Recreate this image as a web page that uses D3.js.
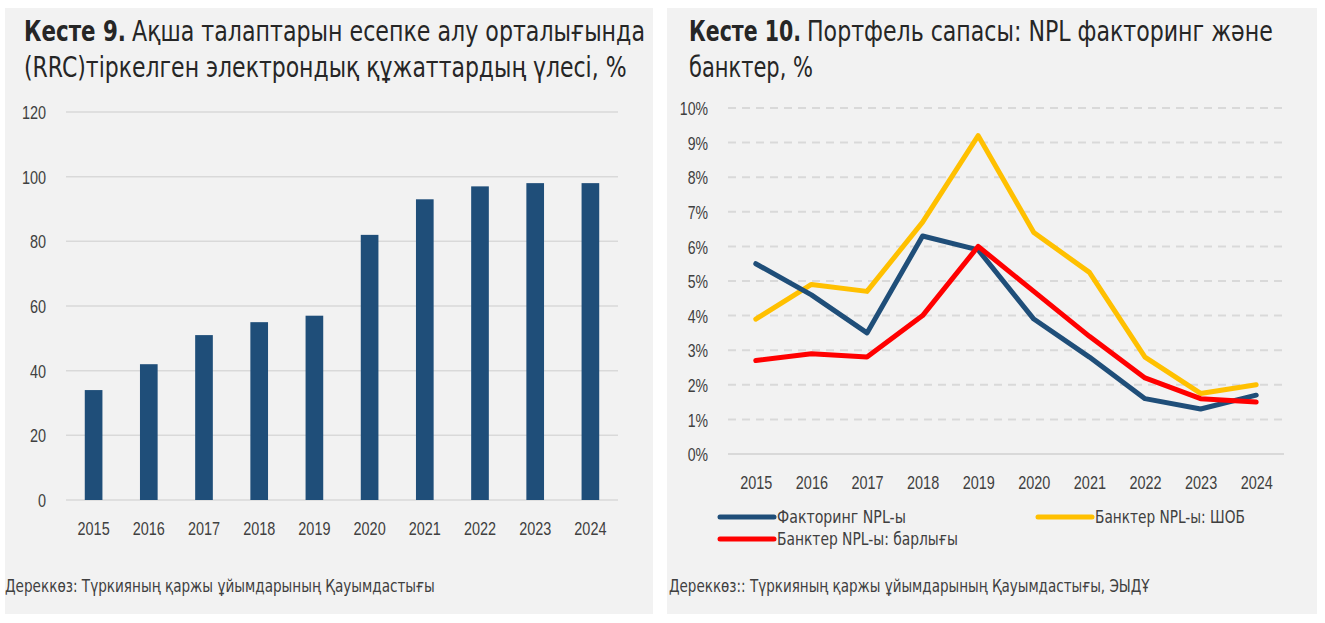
<!DOCTYPE html>
<html>
<head>
<meta charset="utf-8">
<script src="https://cdn.jsdelivr.net/npm/d3@7"></script>
<style>
  body { margin: 0; background: #fff; }
  svg { display: block; font-family: "Liberation Sans Narrow", "DejaVu Sans Condensed", sans-serif; }
</style>
</head>
<body>
<svg id="chart" width="1325" height="623"></svg>
<script>
// ---- data ----
const years = ["2015", "2016", "2017", "2018", "2019", "2020", "2021", "2022", "2023", "2024"];
const rrcShare = [34, 42, 51, 55, 57, 82, 93, 97, 98, 98];
const barTicks = [0, 20, 40, 60, 80, 100, 120];

const factoringNpl = [5.5, 4.6, 3.5, 6.3, 5.9, 3.9, 2.8, 1.6, 1.3, 1.7];
const banksSmeNpl = [3.9, 4.9, 4.7, 6.7, 9.2, 6.4, 5.25, 2.8, 1.75, 2.0];
const banksAllNpl = [2.7, 2.9, 2.8, 4.0, 6.0, 4.7, 3.4, 2.2, 1.6, 1.5];
const pctTicks = [0, 1, 2, 3, 4, 5, 6, 7, 8, 9, 10];

const seriesNames = ["Факторинг NPL-ы", "Банктер NPL-ы: ШОБ", "Банктер NPL-ы: барлығы"];
const seriesColors = ["#1f4e79", "#ffc000", "#ff0000"];

const svg = d3.select("#chart");
const textColor = "#404040";
const titleColor = "#262626";

// the original uses a narrow font, so squeeze texts horizontally to the widths seen there
function fit(sel, w) {
  const x = +sel.attr("x"), y = +sel.attr("y");
  const len = sel.node().getComputedTextLength();
  sel.attr("x", 0).attr("y", 0)
    .attr("transform", `translate(${x},${y}) scale(${w / len},1)`);
  return sel;
}
function squeeze(sel, ratio) {
  sel.each(function () {
    const len = this.getComputedTextLength();
    d3.select(this).attr("textLength", len * ratio).attr("lengthAdjust", "spacingAndGlyphs");
  });
  return sel;
}

function titleText(x, y, txt, w, bold) {
  const t = svg.append("text").attr("x", x).attr("y", y)
    .attr("fill", titleColor).style("font-size", "28px")
    .style("font-weight", bold ? "bold" : "normal")
    .text(txt);
  return fit(t, w);
}

// ---- panels ----
svg.append("rect").attr("x", 5).attr("y", 8).attr("width", 648).attr("height", 606).attr("fill", "#f2f2f2");
svg.append("rect").attr("x", 667).attr("y", 8).attr("width", 650).attr("height", 606).attr("fill", "#f2f2f2");

// ---- left: bar chart ----
titleText(24, 41, "Кесте 9.", 102, true);
titleText(132, 41, "Ақша талаптарын есепке алу орталығында", 513);
titleText(24, 77, "(RRC)тіркелген электрондық құжаттардың үлесі, %", 603);

const xBar = d3.scaleBand().domain(years).range([66, 618]).paddingInner(0.68).paddingOuter(0.34);
const yBar = d3.scaleLinear().domain([0, 120]).range([500, 112]);

const gBar = svg.append("g");
gBar.selectAll("line.grid").data(barTicks).join("line")
  .attr("x1", 66).attr("x2", 618)
  .attr("y1", d => yBar(d)).attr("y2", d => yBar(d))
  .attr("stroke", "#d9d9d9").attr("stroke-width", 1.5);

gBar.selectAll("rect.bar").data(years).join("rect")
  .attr("x", d => xBar(d))
  .attr("width", xBar.bandwidth())
  .attr("y", (d, i) => yBar(rrcShare[i]))
  .attr("height", (d, i) => yBar(0) - yBar(rrcShare[i]))
  .attr("fill", "#1f4e79");

const yAxisBar = d3.axisLeft(yBar).tickValues(barTicks).tickSize(0).tickPadding(0);
svg.append("g").attr("transform", "translate(46,0)").call(yAxisBar)
  .call(g => g.select(".domain").remove())
  .selectAll("text").attr("fill", textColor).style("font-size", "19px")
  .attr("dy", "0.35em").call(squeeze, 0.76);

const xAxisBar = d3.axisBottom(xBar).tickSize(0).tickPadding(0);
svg.append("g").attr("transform", "translate(0,528)").call(xAxisBar)
  .call(g => g.select(".domain").remove())
  .selectAll("text").attr("fill", textColor).style("font-size", "19px")
  .attr("dy", "0.35em").call(squeeze, 0.76);

fit(svg.append("text").attr("x", 5).attr("y", 592).attr("fill", textColor)
  .style("font-size", "17px")
  .text("Дереккөз: Түркияның қаржы ұйымдарының Қауымдастығы"), 430);

// ---- right: line chart ----
titleText(689, 41, "Кесте 10.", 112, true);
titleText(807, 41, "Портфель сапасы: NPL факторинг және", 466);
titleText(689, 77, "банктер, %", 124);

const xLine = d3.scalePoint().domain(years).range([728, 1284]).padding(0.5);
const yLine = d3.scaleLinear().domain([0, 10]).range([454, 108]);

const gLine = svg.append("g");
gLine.selectAll("line.grid").data(pctTicks).join("line")
  .attr("x1", 728).attr("x2", 1284)
  .attr("y1", d => yLine(d)).attr("y2", d => yLine(d))
  .attr("stroke", "#d9d9d9").attr("stroke-width", 2)
  .attr("stroke-dasharray", d => d === 0 ? null : "8,6");

const yAxisLine = d3.axisLeft(yLine).tickValues(pctTicks).tickFormat(d => d + "%").tickSize(0).tickPadding(0);
svg.append("g").attr("transform", "translate(708,0)").call(yAxisLine)
  .call(g => g.select(".domain").remove())
  .selectAll("text").attr("fill", textColor).style("font-size", "19px")
  .attr("dy", "0.35em").call(squeeze, 0.74);

const xAxisLine = d3.axisBottom(xLine).tickSize(0).tickPadding(0);
svg.append("g").attr("transform", "translate(0,482)").call(xAxisLine)
  .call(g => g.select(".domain").remove())
  .selectAll("text").attr("fill", textColor).style("font-size", "19px")
  .attr("dy", "0.35em").call(squeeze, 0.76);

const series = [factoringNpl, banksSmeNpl, banksAllNpl];
const line = d3.line().x((d, i) => xLine(years[i])).y(d => yLine(d));
// yellow first, then blue, red on top
[1, 0, 2].forEach(k => {
  gLine.append("path").datum(series[k])
    .attr("d", line)
    .attr("fill", "none")
    .attr("stroke", seriesColors[k])
    .attr("stroke-width", 5)
    .attr("stroke-linecap", "round")
    .attr("stroke-linejoin", "round");
});

// legend
const legendPos = [[720, 517], [1038, 517], [720, 539]];
const legendWidths = [129, 150, 181];
const legend = svg.append("g");
seriesNames.forEach((name, k) => {
  const [lx, ly] = legendPos[k];
  legend.append("line")
    .attr("x1", lx).attr("x2", lx + 54).attr("y1", ly).attr("y2", ly)
    .attr("stroke", seriesColors[k]).attr("stroke-width", 5).attr("stroke-linecap", "round");
  fit(legend.append("text").attr("x", lx + 57).attr("y", ly + 6)
    .attr("fill", textColor).style("font-size", "17px").text(name), legendWidths[k]);
});

fit(svg.append("text").attr("x", 669).attr("y", 592).attr("fill", textColor)
  .style("font-size", "17px")
  .text("Дереккөз:: Түркияның қаржы ұйымдарының Қауымдастығы, ЭЫДҰ"), 481);
</script>
</body>
</html>
